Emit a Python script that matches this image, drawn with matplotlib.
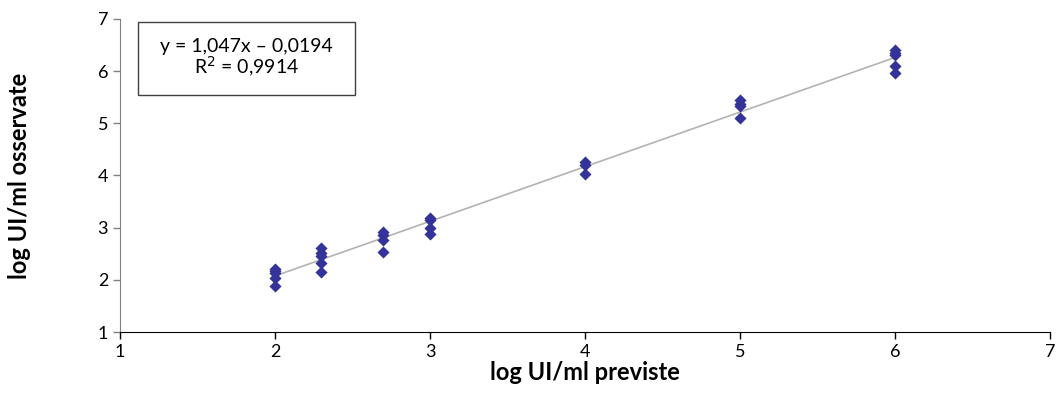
import matplotlib
matplotlib.use("Agg")
import matplotlib.pyplot as plt
from matplotlib.patches import Rectangle
import numpy as np

plt.rcParams['font.family'] = ['Lato', 'DejaVu Sans']

x_vals = [2, 2, 2, 2, 2,
          2.3, 2.3, 2.3, 2.3, 2.3,
          2.7, 2.7, 2.7, 2.7,
          3, 3, 3, 3,
          4, 4, 4,
          5, 5, 5, 5,
          6, 6, 6, 6, 6]
y_vals = [2.21, 2.17, 2.14, 2.03, 1.88,
          2.61, 2.51, 2.46, 2.33, 2.15,
          2.92, 2.86, 2.76, 2.54,
          3.18, 3.15, 2.99, 2.88,
          4.26, 4.20, 4.02,
          5.44, 5.38, 5.33, 5.11,
          6.40, 6.35, 6.31, 6.10, 5.97]
slope = 1.047
intercept = -0.0194
fit_x = [2, 6]
eq_text = "y = 1,047x \u2013 0,0194\nR$^2$ = 0,9914"
xlabel = "log UI/ml previste"
ylabel = "log UI/ml osservate"

fig = plt.figure(figsize=(10.57, 4.11), dpi=100)
ax = fig.add_axes([0.1135, 0.1922, 0.8799, 0.7616])

fx = np.array(fit_x, dtype=float)
ax.plot(fx, slope * fx + intercept, color='#b3b3b3', lw=1.2, zorder=1)
ax.scatter(x_vals, y_vals, marker='D', s=38, color='#333399', zorder=2, linewidths=0)

ax.set_xlim(1, 7)
ax.set_ylim(1, 7)
ax.set_xticks(range(1, 8))
ax.set_yticks(range(1, 8))
ax.tick_params(axis='both', labelsize=13, direction='out', length=5, width=1)
ax.tick_params(axis='y', color='#808080')
ax.spines['top'].set_visible(False)
ax.spines['right'].set_visible(False)
ax.spines['left'].set_color('#808080')
ax.spines['bottom'].set_color('black')

ax.set_xlabel(xlabel, fontsize=17, fontweight='bold', labelpad=1)
ax.set_ylabel(ylabel, fontsize=17, fontweight='bold', labelpad=48)

ax.add_patch(Rectangle((0.0194, 0.757), 0.2333, 0.233, transform=ax.transAxes,
                       facecolor='white', edgecolor='#404040', lw=1, zorder=3))
ax.text(0.136, 0.874, eq_text, transform=ax.transAxes, ha='center', va='center',
        fontsize=14, linespacing=1.0, zorder=4)

fig.savefig("out.png", dpi=100)
